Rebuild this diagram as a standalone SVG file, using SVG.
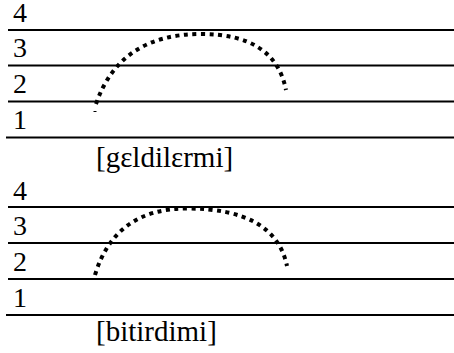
<svg xmlns="http://www.w3.org/2000/svg" width="454" height="353" viewBox="0 0 454 353">
<style>
.rule{stroke:#000;stroke-width:2;fill:none}
.dots{stroke:#000;stroke-width:4;fill:none;stroke-dasharray:4 4.5}
.t{font-family:'Liberation Serif','Times New Roman',serif;font-size:29px;fill:#000}
.n{font-size:28px}
</style>
<rect width="454" height="353" fill="#fff"/>
<g id="chart1">
<line class="rule" x1="8" y1="30" x2="454" y2="30"/>
<line class="rule" x1="8" y1="65.5" x2="454" y2="65.5"/>
<line class="rule" x1="8" y1="101.5" x2="454" y2="101.5"/>
<line class="rule" x1="6" y1="137.5" x2="454" y2="137.5"/>
<text class="t n" x="13" y="22">4</text>
<text class="t n" x="13" y="57">3</text>
<text class="t n" x="13" y="93">2</text>
<text class="t n" x="13" y="129">1</text>
<path class="dots" d="M96,104 Q120,34 201,34 Q275,34 286,90"/>
<line x1="93.5" y1="111.5" x2="96.5" y2="111.5" stroke="#000" stroke-width="1"/>
<text class="t" x="96" y="167">[gɛldilɛrmi]</text>
</g>
<g id="chart2">
<line class="rule" x1="8" y1="207" x2="454" y2="207"/>
<line class="rule" x1="8" y1="243" x2="454" y2="243"/>
<line class="rule" x1="8" y1="279" x2="454" y2="279"/>
<line class="rule" x1="6" y1="315" x2="454" y2="315"/>
<text class="t n" x="13" y="199.5">4</text>
<text class="t n" x="13" y="235">3</text>
<text class="t n" x="13" y="271">2</text>
<text class="t n" x="13" y="306.5">1</text>
<path class="dots" d="M95,275 Q115,208.5 187,208.5 Q275,208.5 287,266"/>
<text class="t" x="96" y="341">[bitirdimi]</text>
</g>
</svg>
